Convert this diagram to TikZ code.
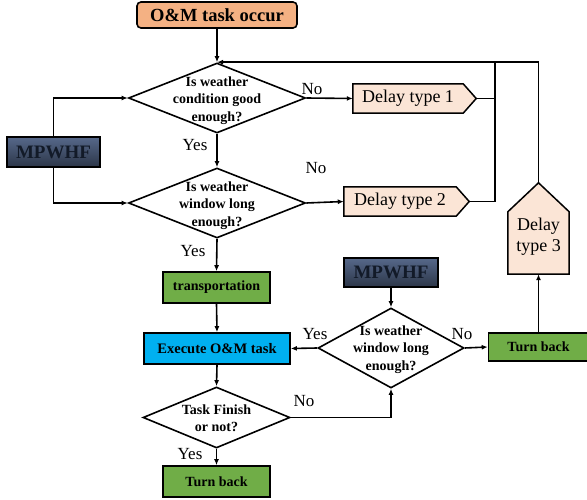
\documentclass[tikz,border=0pt]{standalone}
\usepackage{fontspec}
\setmainfont{Liberation Serif}
\usetikzlibrary{shapes.geometric,arrows.meta,calc,backgrounds}
\definecolor{omfill}{HTML}{F4B183}
\definecolor{peach}{HTML}{FBE5D6}
\definecolor{grn}{HTML}{70AD47}
\definecolor{cyn}{HTML}{00B0F0}
\definecolor{mptop}{HTML}{56688A}
\definecolor{mpbot}{HTML}{2C3648}
\definecolor{mptext}{HTML}{121A28}
\begin{document}
\begin{tikzpicture}[x=1pt,y=-1pt,
  ln/.style={line width=1.6pt},
  arr/.style={line width=1.6pt,-{Latex[length=6pt,width=5pt]}},
  boxs/.style={draw,line width=1.6pt,inner sep=0pt,font=\bfseries\fontsize{14}{17}\selectfont},
  decs/.style={diamond,draw,fill=white,line width=1.6pt,inner sep=0pt},
  dtext/.style={align=center,inner sep=0pt,font=\bfseries\fontsize{14}{17.5}\selectfont},
  delays/.style={inner sep=0pt,align=center,font=\fontsize{18}{21}\selectfont},
  pent/.style={draw,fill=peach,line width=1.5pt,line join=miter},
  mps/.style={boxs,shade,top color=mptop,bottom color=mpbot,text=mptext,font=\bfseries\fontsize{19}{21}\selectfont},
  lbl/.style={inner sep=0pt,font=\fontsize{17}{20}\selectfont}
]
\useasboundingbox (0,0) rectangle (587,500);

\node[boxs,rounded corners=4pt,fill=omfill,minimum width=160pt,minimum height=26pt,font=\bfseries\fontsize{18.5}{21}\selectfont] (om) at (217,15) {O\&M task occur};

\node[decs,minimum width=177pt,minimum height=70pt] (d1) at (217,98) {};
\node[dtext] (d1t) at (217,100.5) {Is weather\\condition good\\enough?};
\node[decs,minimum width=177pt,minimum height=70pt] (d2) at (217,203) {};
\node[dtext] (d2t) at (217,205.5) {Is weather\\window long\\enough?};

\node[mps,minimum width=93pt,minimum height=30pt] (mp1) at (53.5,152) {MPWHF};

\node[delays,minimum width=110pt,minimum height=29pt] (dt1) at (408,98.5) {Delay type 1};
\coordinate (dt1tip) at ($(dt1.east)+(13,0)$);
\node[delays,minimum width=112pt,minimum height=29pt] (dt2) at (400,201.5) {Delay type 2};
\coordinate (dt2tip) at ($(dt2.east)+(13,0)$);
\node[delays,minimum width=61pt,minimum height=62pt] (dt3) at (538.5,243) {};
\coordinate (dt3tip) at ($(dt3.north)+(0,-29)$);
\node[delays] (dt3t) at (538.5,237) {Delay\\type 3};

\begin{scope}[on background layer]
\draw[pent] (dt1.north west) -- (dt1.north east) -- (dt1tip) -- (dt1.south east) -- (dt1.south west) -- cycle;
\draw[pent] (dt2.north west) -- (dt2.north east) -- (dt2tip) -- (dt2.south east) -- (dt2.south west) -- cycle;
\draw[pent] (dt3.south west) -- (dt3.north west) -- (dt3tip) -- (dt3.north east) -- (dt3.south east) -- cycle;
\end{scope}

\node[boxs,fill=grn,minimum width=107pt,minimum height=31pt] (tr) at (216.5,287.5) {transportation};
\node[boxs,fill=cyn,minimum width=146pt,minimum height=31pt,font=\bfseries\fontsize{14.5}{17}\selectfont] (ex) at (217,348.5) {Execute O\&M task};
\node[decs,minimum width=147pt,minimum height=61pt] (d3) at (216.5,417.5) {};
\node[dtext] (d3t) at (216.5,418) {Task Finish\\or not?};
\node[boxs,fill=grn,minimum width=107pt,minimum height=31pt] (tb1) at (216.5,481.5) {Turn back};

\node[mps,minimum width=94pt,minimum height=29pt] (mp2) at (391,272.5) {MPWHF};
\node[decs,minimum width=146pt,minimum height=80pt] (d4) at (391,348) {};
\node[dtext] (d4t) at (391,349.5) {Is weather\\window long\\enough?};
\node[boxs,fill=grn,minimum width=100pt,minimum height=28pt] (tb2) at (538.5,347) {Turn back};

\coordinate (j) at (495,62);

\draw[arr] (om.south) -- (d1.north);
\draw[arr] (dt3tip) |- (d1.north);
\draw[ln] (dt1tip) -| (j);
\draw[ln] (dt2tip) -| (j);
\draw[arr] (d1.east) -- (dt1.west);
\draw[arr] (d2.east) -- (dt2.west);
\draw[arr] (mp1.north) |- (d1.west);
\draw[arr] (mp1.south) |- (d2.west);
\draw[arr] (d1.south) -- (d2.north);
\draw[arr] (d2.south) -- (tr.north);
\draw[arr] (tr.south) -- (ex.north);
\draw[arr] (ex.south) -- (d3.north);
\draw[arr] (d3.south) -- (tb1.north);
\draw[arr] (d3.east) -| (d4.south);
\draw[arr] (mp2.south) -- (d4.north);
\draw[arr] (d4.west) -- (ex.east);
\draw[arr] (d4.east) -- (tb2.west);
\draw[arr] (tb2.north) -- (dt3.south);

\node[lbl] (n1) at (312,89) {No};
\node[lbl] (n2) at (316,168) {No};
\node[lbl] (y1) at (195,145) {Yes};
\node[lbl] (y2) at (193,251) {Yes};
\node[lbl] (y3) at (315,334) {Yes};
\node[lbl] (n3) at (462,334) {No};
\node[lbl] (n4) at (304,401) {No};
\node[lbl] (y4) at (190,454) {Yes};
\end{tikzpicture}
\end{document}
